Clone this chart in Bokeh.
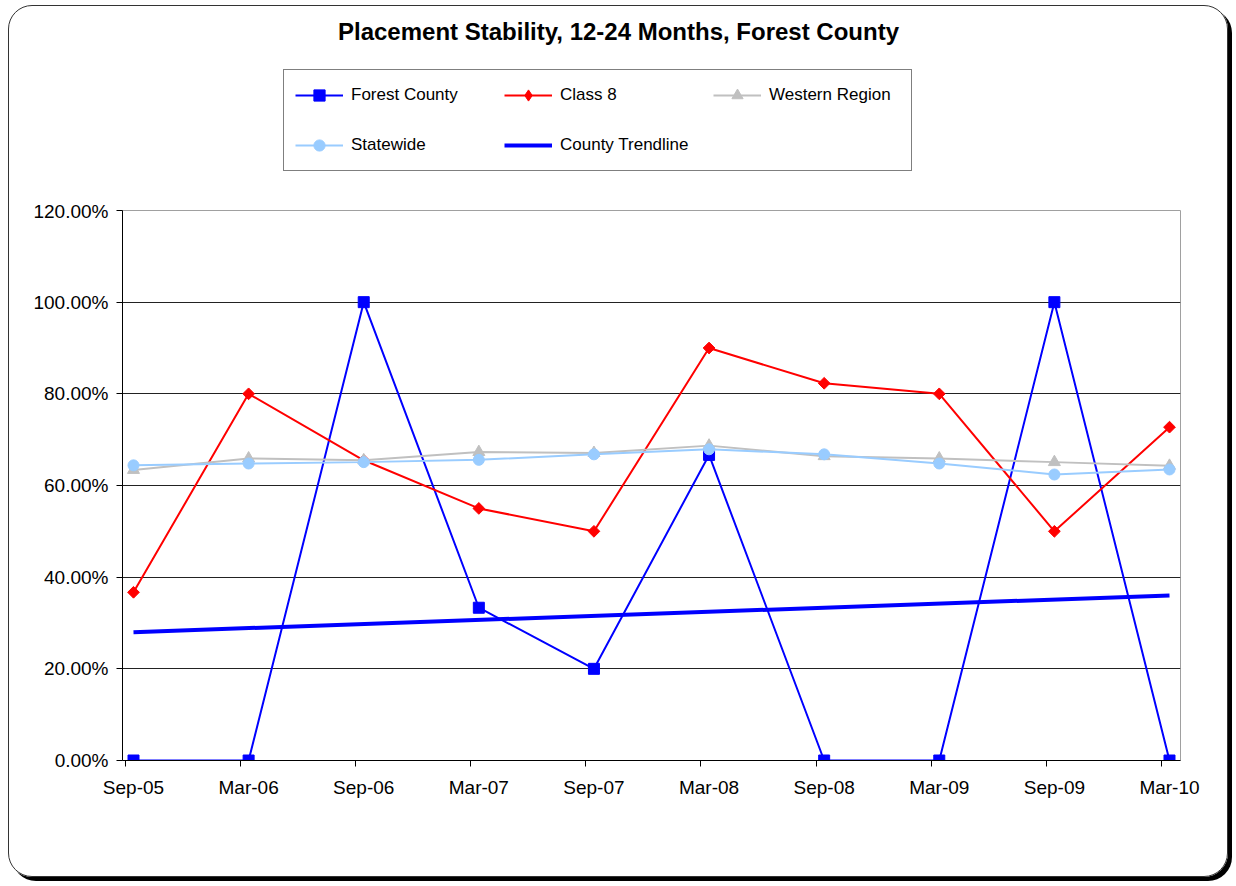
import math
from bokeh.plotting import figure
from bokeh.layouts import column
from bokeh.models import (FixedTicker, NumeralTickFormatter, Legend, LegendItem, Range1d,
                          Label, LinearAxis)
from bokeh.embed import file_html
from bokeh.resources import INLINE

# ---- data ----
periods = ["Sep-05", "Mar-06", "Sep-06", "Mar-07", "Sep-07",
           "Mar-08", "Sep-08", "Mar-09", "Sep-09", "Mar-10"]
forest_county = [0.0, 0.0, 1.0, 0.3333, 0.20, 0.6667, 0.0, 0.0, 1.0, 0.0]
class_8 = [0.367, 0.80, 0.655, 0.55, 0.50, 0.90, 0.823, 0.80, 0.50, 0.7273]
western_region = [0.634, 0.659, 0.655, 0.673, 0.671, 0.687, 0.664, 0.659, 0.651, 0.643]
statewide = [0.644, 0.648, 0.651, 0.656, 0.668, 0.679, 0.668, 0.648, 0.624, 0.635]
trend_periods = ["Sep-05", "Mar-10"]
county_trendline = [0.280, 0.360]
y_ticks = [0.0, 0.2, 0.4, 0.6, 0.8, 1.0, 1.2]
series_names = ["Forest County", "Class 8", "Western Region", "Statewide", "County Trendline"]
chart_title = "Placement Stability, 12-24 Months, Forest County"

FONT = "Liberation Sans"
BLUE, RED, GRAY, LBLUE = "#0000FF", "#FF0000", "#C0C0C0", "#99CCFF"
x = list(range(len(periods)))
xt = [periods.index(t) for t in trend_periods]
NAN = [float("nan")]
TICK_SHIFT = 0.07   # date-axis tick marks sit a little before each data point

W = 1218
HH, HC = 194, 676

# ---------- header (title + legend) ----------
hdr = figure(width=W, height=HH, output_backend="svg", toolbar_location=None,
             x_range=Range1d(0, 1), y_range=Range1d(0, 1),
             x_axis_location=None, y_axis_location=None,
             min_border_left=0, min_border_right=0, min_border_top=0, min_border_bottom=0)
hdr.border_fill_color = None
hdr.background_fill_color = None
hdr.outline_line_color = None
hdr.xgrid.grid_line_color = None
hdr.ygrid.grid_line_color = None

# legend swatches (style carriers only, nothing plotted)
l1 = hdr.line(NAN, NAN, line_color=BLUE, line_width=2)
m1 = hdr.scatter(NAN, NAN, marker="square", size=11, fill_color=BLUE, line_color=BLUE)
l2 = hdr.line(NAN, NAN, line_color=RED, line_width=2)
m2 = hdr.scatter(NAN, NAN, marker="diamond", size=12, fill_color=RED, line_color=RED)
l3 = hdr.line(NAN, NAN, line_color=GRAY, line_width=2)
m3 = hdr.scatter(NAN, NAN, marker="triangle", size=12, fill_color=GRAY, line_color=GRAY)
l4 = hdr.line(NAN, NAN, line_color=LBLUE, line_width=2)
m4 = hdr.scatter(NAN, NAN, marker="circle", size=11, fill_color=LBLUE, line_color=LBLUE)
l5 = hdr.line(NAN, NAN, line_color=BLUE, line_width=4)

legend = Legend(items=[
    LegendItem(label=series_names[0], renderers=[l1, m1]),
    LegendItem(label=series_names[1], renderers=[l2, m2]),
    LegendItem(label=series_names[2], renderers=[l3, m3]),
    LegendItem(label=series_names[3], renderers=[l4, m4]),
    LegendItem(label=series_names[4], renderers=[l5]),
], location=(161, 29), orientation="horizontal", ncols=3)
legend.border_line_color = "black"
legend.border_line_width = 1
legend.background_fill_color = "white"
legend.label_text_font = FONT
legend.label_text_font_size = "17px"
legend.label_text_color = "black"
legend.glyph_width = 48
legend.glyph_height = 28
legend.label_standoff = 8
legend.label_width = 131
legend.spacing = 22
legend.padding = 11
legend.margin = 0
hdr.add_layout(legend, "center")

hdr.add_layout(Label(x=496, y=169, x_units="screen", y_units="screen",
                     text=chart_title, text_font=FONT, text_font_size="24px",
                     text_font_style="bold", text_align="center",
                     text_baseline="middle", text_color="black"))

# ---------- chart ----------
p = figure(width=W, height=HC, output_backend="svg", toolbar_location=None,
           x_range=Range1d(-0.0956, len(periods) - 1 + 0.0956),
           y_range=Range1d(0, 1.2), x_axis_location=None,
           min_border_left=113, min_border_right=47,
           min_border_top=10, min_border_bottom=116)
p.border_fill_color = None
p.background_fill_color = "white"
p.outline_line_color = "#a0a0a0"
p.outline_line_width = 1

# x axis: tick marks (slightly before points) + labels (centred on points)
tick_pos = [i - TICK_SHIFT for i in x]
ax_ticks = LinearAxis(ticker=FixedTicker(ticks=tick_pos),
                      major_label_overrides={t: "" for t in tick_pos},
                      major_label_standoff=0, major_label_text_font_size="1px")
ax_labels = LinearAxis(ticker=FixedTicker(ticks=x),
                       major_label_overrides={i: s for i, s in zip(x, periods)})
p.add_layout(ax_ticks, "below")
p.add_layout(ax_labels, "below")

p.yaxis.ticker = FixedTicker(ticks=y_ticks)
p.yaxis.formatter = NumeralTickFormatter(format="0.00%")
for ax in (ax_ticks, ax_labels, p.yaxis[0]):
    ax.axis_line_color = "black"
    ax.axis_line_width = 1
    ax.major_tick_line_color = "black"
    ax.major_tick_out = 6
    ax.major_tick_in = 0
    ax.minor_tick_line_color = None
    ax.major_label_text_font = FONT
    ax.major_label_text_color = "black"
p.yaxis.major_label_text_font_size = "19px"
p.yaxis.major_label_standoff = 8
ax_ticks.major_label_text_font_size = "1px"
ax_labels.major_label_text_font_size = "19px"
ax_labels.axis_line_color = None
ax_labels.major_tick_line_color = None
ax_labels.major_tick_out = 0
ax_labels.major_label_standoff = 10
p.xgrid.grid_line_color = None
p.ygrid.grid_line_color = "#222222"
p.ygrid.grid_line_width = 1

p.line(x, forest_county, line_color=BLUE, line_width=2)
p.scatter(x, forest_county, marker="square", size=11, fill_color=BLUE, line_color=BLUE)
p.line(x, class_8, line_color=RED, line_width=2)
p.scatter(x, class_8, marker="square", angle=math.pi / 4, size=8.3, fill_color=RED, line_color=RED)
p.line(x, western_region, line_color=GRAY, line_width=2)
p.scatter(x, western_region, marker="triangle", size=12, fill_color=GRAY, line_color=GRAY)
p.line(x, statewide, line_color=LBLUE, line_width=2)
p.scatter(x, statewide, marker="circle", size=11, fill_color=LBLUE, line_color=LBLUE)
p.line(xt, county_trendline, line_color=BLUE, line_width=4)

layout = column(hdr, p, spacing=0)
layout.styles = {"border": "1px solid #333333", "border-radius": "24px",
                 "box-shadow": "4px 4px 0 0 #000000",
                 "margin-left": "8px", "margin-top": "5px"}

open("out.html", "w").write(file_html(layout, INLINE))
